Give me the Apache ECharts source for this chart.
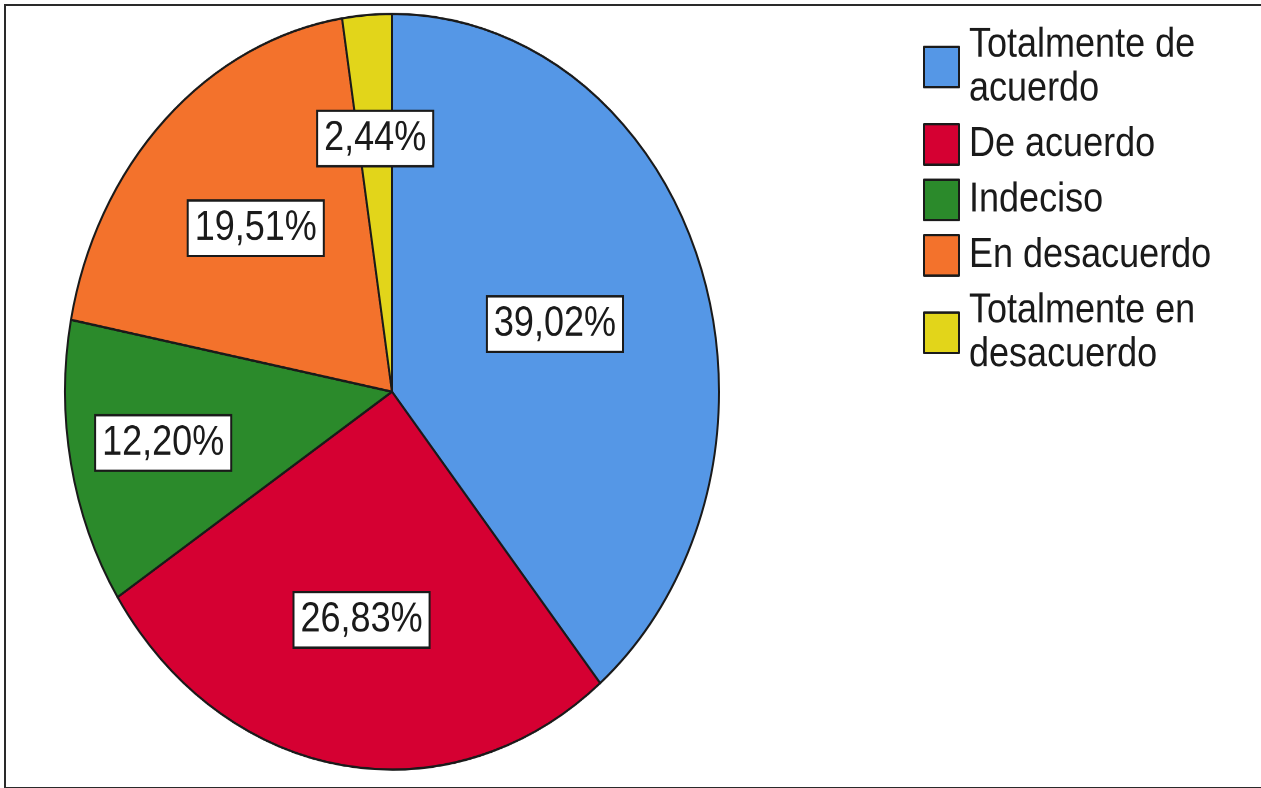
<!DOCTYPE html>
<html>
<head>
<meta charset="utf-8">
<script src="https://cdn.jsdelivr.net/npm/echarts@6/dist/echarts.min.js"></script>
<style>
  html, body { margin: 0; padding: 0; background: #fff; overflow: hidden; }
  #frame { position: absolute; left: 4px; top: 4px; width: 1270px; height: 781px;
           border-top: 2px solid #2a2a2a; border-left: 2px solid #2a2a2a; border-bottom: 2px solid #2a2a2a; }
  #chart { position: absolute; left: 0; top: 0; width: 1261px; height: 682px;
           transform-origin: 0 0; transform: scaleY(1.15543); }
</style>
</head>
<body>
<div id="frame"></div>
<div id="chart"></div>
<script>
const categories = ['Totalmente de acuerdo', 'De acuerdo', 'Indeciso', 'En desacuerdo', 'Totalmente en desacuerdo'];
const percentages = [39.02, 26.83, 12.20, 19.51, 2.44];
const legendLabels = ['Totalmente de\nacuerdo', 'De acuerdo', 'Indeciso', 'En desacuerdo', 'Totalmente en\ndesacuerdo'];

const colors = ['#5597E6', '#D50032', '#2B8A2B', '#F3722C', '#E2D51A'];
const labelRadius = [0.52, 0.60, 0.70, 0.59, 0.66];
const CX = 392, CY = 339, R = 327;

const chart = echarts.init(document.getElementById('chart'), null, { renderer: 'canvas', devicePixelRatio: 2 });
chart.setOption({
  animation: false,
  color: colors,
  legend: {
    orient: 'vertical',
    left: 923,
    top: 20,
    padding: 0,
    itemWidth: 35,
    itemHeight: 35,
    itemGap: 10,
    icon: 'rect',
    selectedMode: false,
    itemStyle: { borderColor: '#1a1a1a', borderWidth: 2 },
    textStyle: {
      fontFamily: "'Liberation Sans', Arial, sans-serif",
      fontSize: 36,
      lineHeight: 38,
      color: '#1a1a1a',
      padding: [0, 0, 0, 5]
    },
    formatter: function (name) { return legendLabels[categories.indexOf(name)]; },
    data: categories
  },
  series: [{
    type: 'pie',
    center: [CX, CY],
    radius: [0, R],
    startAngle: 90,
    clockwise: true,
    avoidLabelOverlap: false,
    itemStyle: { borderColor: '#1a1a1a', borderWidth: 2 },
    emphasis: { disabled: true },
    label: {
      show: true,
      position: 'inside',
      formatter: function (p) { return p.value.toFixed(2).replace('.', ',') + '%'; },
      fontFamily: "'Liberation Sans Narrow', 'Arial Narrow', 'Liberation Sans', Arial, sans-serif",
      fontSize: 36,
      lineHeight: 36,
      color: '#1a1a1a',
      backgroundColor: '#ffffff',
      borderColor: '#1a1a1a',
      borderWidth: 2,
      padding: [5, 6, 5, 6]
    },
    labelLine: { show: false },
    labelLayout: function (params) {
      const i = params.dataIndex;
      const r = params.labelRect;
      const lx = r.x + r.width / 2, ly = r.y + r.height / 2;
      const k = labelRadius[i] / 0.5 - 1;
      return { dx: (lx - CX) * k, dy: (ly - CY) * k };
    },
    data: categories.map(function (c, i) { return { name: c, value: percentages[i] }; })
  }]
});
</script>
</body>
</html>
